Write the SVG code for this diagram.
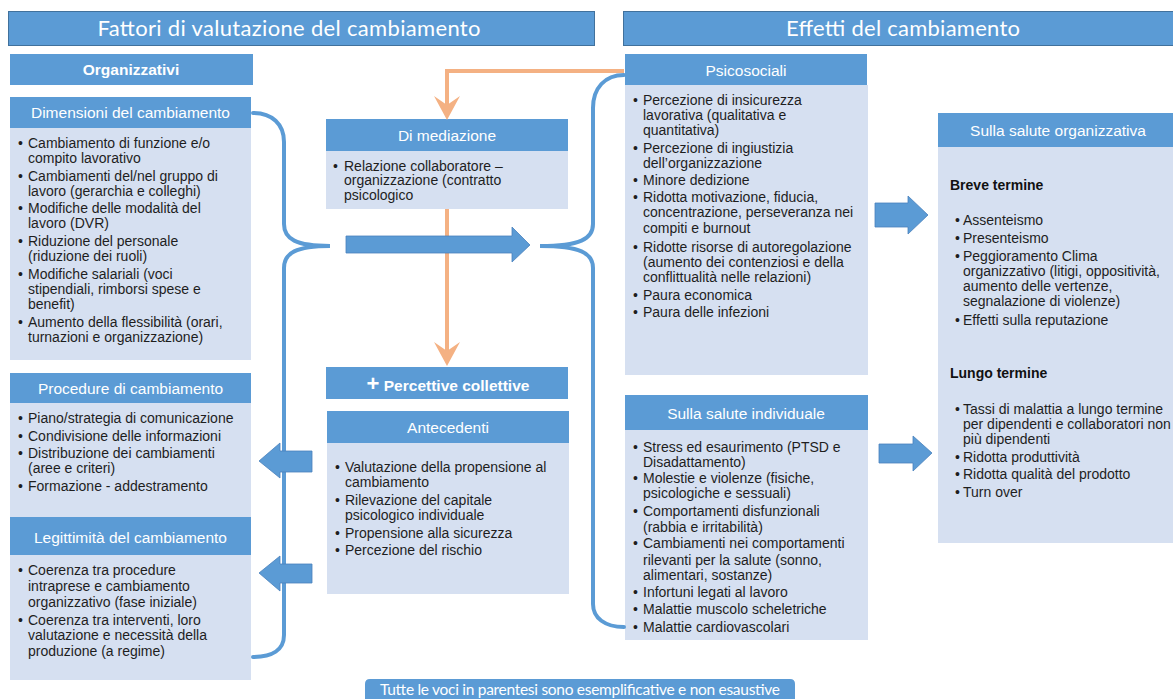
<svg xmlns="http://www.w3.org/2000/svg" width="1173" height="699" viewBox="0 0 1173 699">
<style>
.hd{fill:#5b9bd5}
.bd{fill:#d6e0f1}
.ttl{fill:#5b9bd5;stroke:#41719c;stroke-width:1}
.tt{font-family:Lato,"Open Sans",sans-serif;font-size:22px;fill:#fff;text-anchor:middle}
.ht{font-family:"Liberation Sans",Arial,sans-serif;font-size:15.5px;fill:#fff;text-anchor:middle}
.hb{font-family:"Liberation Sans",Arial,sans-serif;font-size:15.5px;font-weight:bold;fill:#fff;text-anchor:middle}
.bt{font-family:"Liberation Sans",Arial,sans-serif;font-size:14px;fill:#1e1e1e}
.bb{font-family:"Liberation Sans",Arial,sans-serif;font-size:14px;font-weight:bold;fill:#111}
.br{fill:none;stroke:#5b9bd5;stroke-width:4;stroke-linecap:round}
.ar{fill:#5b9bd5;stroke:#4a82bd;stroke-width:0.8}
.or{fill:none;stroke:#f4b183;stroke-width:4}
.oh{fill:#f4b183}
</style>

<g id="title-left">
<rect class="ttl" x="8.5" y="11.5" width="586" height="34"/>
<text class="tt" x="289" y="36" textLength="383">Fattori di valutazione del cambiamento</text>
</g>
<g id="title-right">
<rect class="ttl" x="623.5" y="11.5" width="560" height="34"/>
<text class="tt" x="903" y="36" textLength="234">Effetti del cambiamento</text>
</g>

<g id="organizzativi">
<rect class="hd" x="10" y="54" width="243" height="31"/>
<text class="hb" x="131" y="75">Organizzativi</text>
</g>

<g id="dimensioni">
<rect class="hd" x="10" y="97" width="241" height="31"/>
<rect class="bd" x="10" y="128" width="241" height="232"/>
<text class="ht" x="130.5" y="118">Dimensioni del cambiamento</text>
<text class="bt">
<tspan x="18" y="147.5">•</tspan><tspan x="28" y="147.5">Cambiamento di funzione e/o</tspan>
<tspan x="28" y="163">compito lavorativo</tspan>
<tspan x="18" y="181">•</tspan><tspan x="28" y="181">Cambiamenti del/nel gruppo di</tspan>
<tspan x="28" y="196">lavoro (gerarchia e colleghi)</tspan>
<tspan x="18" y="213">•</tspan><tspan x="28" y="213">Modifiche delle modalità del</tspan>
<tspan x="28" y="228">lavoro (DVR)</tspan>
<tspan x="18" y="246">•</tspan><tspan x="28" y="246">Riduzione del personale</tspan>
<tspan x="28" y="261">(riduzione dei ruoli)</tspan>
<tspan x="18" y="279">•</tspan><tspan x="28" y="279">Modifiche salariali (voci</tspan>
<tspan x="28" y="294">stipendiali, rimborsi spese e</tspan>
<tspan x="28" y="309">benefit)</tspan>
<tspan x="18" y="326.5">•</tspan><tspan x="28" y="326.5">Aumento della flessibilità (orari,</tspan>
<tspan x="28" y="341.5">turnazioni e organizzazione)</tspan>
</text>
</g>

<g id="procedure">
<rect class="hd" x="10" y="373" width="241" height="30"/>
<rect class="bd" x="10" y="403" width="241" height="114"/>
<text class="ht" x="130.5" y="394">Procedure di cambiamento</text>
<text class="bt">
<tspan x="18" y="423">•</tspan><tspan x="28" y="423">Piano/strategia di comunicazione</tspan>
<tspan x="18" y="441">•</tspan><tspan x="28" y="441">Condivisione delle informazioni</tspan>
<tspan x="18" y="458">•</tspan><tspan x="28" y="458">Distribuzione dei cambiamenti</tspan>
<tspan x="28" y="473">(aree e criteri)</tspan>
<tspan x="18" y="491">•</tspan><tspan x="28" y="491">Formazione - addestramento</tspan>
</text>
</g>

<g id="legittimita">
<rect class="hd" x="10" y="517" width="241" height="38"/>
<rect class="bd" x="10" y="555" width="241" height="125"/>
<text class="ht" x="130.5" y="543">Legittimità del cambiamento</text>
<text class="bt">
<tspan x="18" y="575">•</tspan><tspan x="28" y="575">Coerenza tra procedure</tspan>
<tspan x="28" y="591">intraprese e cambiamento</tspan>
<tspan x="28" y="607">organizzativo  (fase iniziale)</tspan>
<tspan x="18" y="625">•</tspan><tspan x="28" y="625">Coerenza tra interventi, loro</tspan>
<tspan x="28" y="640">valutazione e necessità della</tspan>
<tspan x="28" y="656">produzione (a regime)</tspan>
</text>
</g>

<g id="mediazione">
<rect class="hd" x="326" y="119" width="242" height="32"/>
<rect class="bd" x="326" y="151" width="242" height="58"/>
<text class="ht" x="447" y="141">Di mediazione</text>
<text class="bt">
<tspan x="333" y="171">•</tspan><tspan x="344" y="171">Relazione collaboratore –</tspan>
<tspan x="344" y="185">organizzazione  (contratto</tspan>
<tspan x="344" y="200">psicologico</tspan>
</text>
</g>

<g id="percettive">
<rect class="hd" x="326" y="367" width="242" height="32"/>
<text class="hb" x="448" y="391"><tspan font-size="22px">+</tspan> Percettive collettive</text>
</g>

<g id="antecedenti">
<rect class="hd" x="327" y="411" width="242" height="32"/>
<rect class="bd" x="327" y="443" width="242" height="151"/>
<text class="ht" x="448" y="433">Antecedenti</text>
<text class="bt">
<tspan x="335" y="472">•</tspan><tspan x="345" y="472">Valutazione della propensione al</tspan>
<tspan x="345" y="487">cambiamento</tspan>
<tspan x="335" y="505">•</tspan><tspan x="345" y="505">Rilevazione del capitale</tspan>
<tspan x="345" y="520">psicologico individuale</tspan>
<tspan x="335" y="538">•</tspan><tspan x="345" y="538">Propensione alla sicurezza</tspan>
<tspan x="335" y="555">•</tspan><tspan x="345" y="555">Percezione del rischio</tspan>
</text>
</g>

<g id="psicosociali">
<rect class="hd" x="625" y="54" width="242" height="31"/>
<rect class="bd" x="625" y="85" width="243" height="290"/>
<text class="ht" x="746" y="76">Psicosociali</text>
<text class="bt">
<tspan x="633" y="105">•</tspan><tspan x="643" y="105">Percezione di insicurezza</tspan>
<tspan x="643" y="120">lavorativa (qualitativa e</tspan>
<tspan x="643" y="135">quantitativa)</tspan>
<tspan x="633" y="153">•</tspan><tspan x="643" y="153">Percezione di ingiustizia</tspan>
<tspan x="643" y="168">dell’organizzazione</tspan>
<tspan x="633" y="185">•</tspan><tspan x="643" y="185">Minore dedizione</tspan>
<tspan x="633" y="202">•</tspan><tspan x="643" y="202">Ridotta motivazione,  fiducia,</tspan>
<tspan x="643" y="217">concentrazione, perseveranza nei</tspan>
<tspan x="643" y="233">compiti e burnout</tspan>
<tspan x="633" y="252">•</tspan><tspan x="643" y="252">Ridotte risorse di autoregolazione</tspan>
<tspan x="643" y="267">(aumento dei contenziosi e della</tspan>
<tspan x="643" y="282">conflittualità nelle relazioni)</tspan>
<tspan x="633" y="300">•</tspan><tspan x="643" y="300">Paura economica</tspan>
<tspan x="633" y="317">•</tspan><tspan x="643" y="317">Paura delle infezioni</tspan>
</text>
</g>

<g id="salute-individuale">
<rect class="hd" x="625" y="395" width="243" height="35"/>
<rect class="bd" x="625" y="430" width="243" height="210"/>
<text class="ht" x="746" y="419">Sulla salute individuale</text>
<text class="bt">
<tspan x="633" y="452">•</tspan><tspan x="643" y="452">Stress ed esaurimento (PTSD e</tspan>
<tspan x="643" y="467">Disadattamento)</tspan>
<tspan x="633" y="483">•</tspan><tspan x="643" y="483">Molestie e violenze (fisiche,</tspan>
<tspan x="643" y="498">psicologiche e sessuali)</tspan>
<tspan x="633" y="516">•</tspan><tspan x="643" y="516">Comportamenti disfunzionali</tspan>
<tspan x="643" y="532">(rabbia e irritabilità)</tspan>
<tspan x="633" y="548">•</tspan><tspan x="643" y="548">Cambiamenti nei comportamenti</tspan>
<tspan x="643" y="565">rilevanti per la salute (sonno,</tspan>
<tspan x="643" y="580">alimentari, sostanze)</tspan>
<tspan x="633" y="597">•</tspan><tspan x="643" y="597">Infortuni legati al lavoro</tspan>
<tspan x="633" y="614">•</tspan><tspan x="643" y="614">Malattie muscolo scheletriche</tspan>
<tspan x="633" y="632">•</tspan><tspan x="643" y="632">Malattie cardiovascolari</tspan>
</text>
</g>

<g id="salute-organizzativa">
<rect class="hd" x="938" y="113" width="240" height="34"/>
<rect class="bd" x="938" y="147" width="240" height="396"/>
<text class="ht" x="1058" y="136">Sulla  salute  organizzativa</text>
<text class="bb" x="950" y="190">Breve termine</text>
<text class="bt">
<tspan x="955" y="225">•</tspan><tspan x="963" y="225">Assenteismo</tspan>
<tspan x="955" y="243">•</tspan><tspan x="963" y="243">Presenteismo</tspan>
<tspan x="955" y="261">•</tspan><tspan x="963" y="261">Peggioramento Clima</tspan>
<tspan x="963" y="276">organizzativo  (litigi, oppositività,</tspan>
<tspan x="963" y="291">aumento delle vertenze,</tspan>
<tspan x="963" y="306">segnalazione di violenze)</tspan>
<tspan x="955" y="325">•</tspan><tspan x="963" y="325">Effetti sulla reputazione</tspan>
</text>
<text class="bb" x="950" y="378">Lungo termine</text>
<text class="bt">
<tspan x="955" y="414">•</tspan><tspan x="963" y="414">Tassi di malattia a lungo termine</tspan>
<tspan x="963" y="429">per dipendenti e collaboratori non</tspan>
<tspan x="963" y="444">più dipendenti</tspan>
<tspan x="955" y="462">•</tspan><tspan x="963" y="462">Ridotta produttività</tspan>
<tspan x="955" y="479">•</tspan><tspan x="963" y="479">Ridotta qualità del prodotto</tspan>
<tspan x="955" y="497">•</tspan><tspan x="963" y="497">Turn over</tspan>
</text>
</g>

<g id="nota">
<path class="hd" d="M365 699 L365 684 Q365 679 370 679 L790 679 Q795 679 795 684 L795 699 Z"/>
<text x="580" y="695" font-family="Lato,'Open Sans',sans-serif" font-size="15.5px" fill="#fff" text-anchor="middle" textLength="400">Tutte le voci in parentesi sono esemplificative e non esaustive</text>
</g>

<g id="connectors">
<path class="br" d="M253 113 C272 113 284 124 284 142 L284 224 C284 239 296 246 330 246 C296 246 284 253 284 268 L284 635 C284 650 272 657 253 657"/>
<path class="br" d="M624 75 C605 75 593 88 593 108 L593 224 C593 239 580 246 540 246 C580 246 593 253 593 268 L593 604 C593 618 605 627 624 627"/>
<path class="or" d="M624 71 L447 71 L447 108"/>
<polygon class="oh" points="447,120 434,96 447,105 460,96"/>
<path class="or" d="M447 209 L447 354"/>
<polygon class="oh" points="447,366 434,342 447,351 460,342"/>
<polygon class="ar" points="346,236 512,236 512,227 530,245 512,262 512,253 346,253"/>
<polygon class="ar" points="312,451 280,451 280,443 259,461 280,478 280,472 312,472"/>
<polygon class="ar" points="312,564 280,564 280,556 259,573 280,591 280,583 312,583"/>
<polygon class="ar" points="875,203 908,203 908,196 928,215 908,234 908,227 875,227"/>
<polygon class="ar" points="879,444 913,444 913,436 932,453 913,471 913,463 879,463"/>
</g>
</svg>
